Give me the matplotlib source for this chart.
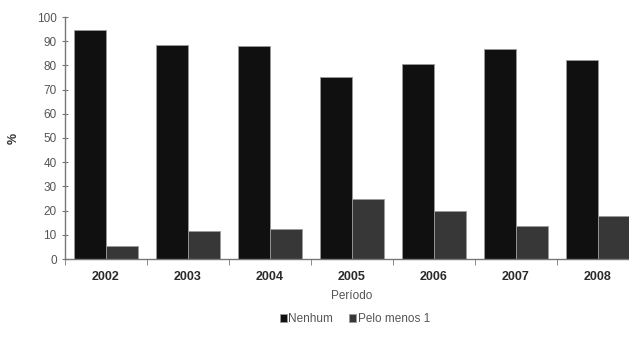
import numpy as np
import matplotlib.pyplot as plt

anos = ['2002', '2003', '2004', '2005', '2006', '2007', '2008']
nenhum = [94.6, 88.6, 88.2, 75.3, 80.4, 86.6, 82.1]
pelo_menos_1 = [5.4, 11.5, 12.2, 24.8, 19.8, 13.6, 17.9]

plt.rcParams['font.family'] = ['Liberation Sans', 'DejaVu Sans']

fig = plt.figure(figsize=(6.29, 3.52), dpi=100)
ax = fig.add_axes([65 / 629, 93 / 352, 574 / 629, 242 / 352])

x = np.arange(len(anos))
w = 0.39
ax.bar(x - w / 2, nenhum, w, color='#101010', edgecolor='#9a9a9a', linewidth=0.6, label='Nenhum')
ax.bar(x + w / 2, pelo_menos_1, w, color='#373737', edgecolor='#9a9a9a', linewidth=0.6, label='Pelo menos 1')

ax.set_xlim(-0.5, len(anos) - 0.5)
ax.set_ylim(0, 100)
ax.set_yticks(range(0, 101, 10))
ax.set_xticks(x)
ax.set_xticklabels(anos, fontsize=9, fontweight='bold', color='#2a2a2a')
ax.set_xticks(np.arange(-0.5, len(anos), 1), minor=True)
ax.tick_params(axis='x', which='major', length=0, pad=9)
ax.tick_params(axis='x', which='minor', length=4, direction='out', color='#777777')
ax.tick_params(axis='y', length=4, direction='inout', color='#777777', labelsize=8.5, labelcolor='#555555', pad=4)

for s in ['top', 'right']:
    ax.spines[s].set_visible(False)
for s in ['left', 'bottom']:
    ax.spines[s].set_color('#777777')
    ax.spines[s].set_linewidth(1.0)

ax.set_ylabel('%', fontsize=9, fontweight='bold', color='#333333', labelpad=12)
ax.set_xlabel('Período', fontsize=8.5, color='#555555', labelpad=5)

fig.legend(loc='center', bbox_to_anchor=(0.564, 0.093), ncol=2, frameon=False,
           fontsize=8.5, labelcolor='#555555', handlelength=0.6, handleheight=0.6,
           handletextpad=0.1, columnspacing=1.4)

fig.savefig('out.png', dpi=100)
